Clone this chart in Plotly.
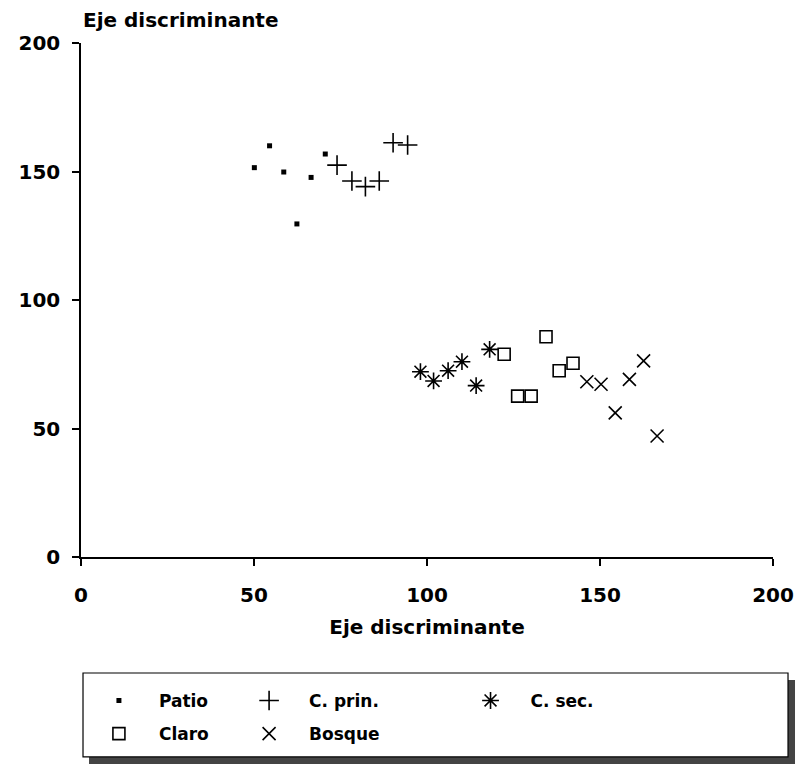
import plotly.graph_objects as go

# ---- data ----
patio_x = [54.5, 50.1, 58.6, 70.6, 66.5, 62.4]
patio_y = [160.0, 151.5, 149.8, 156.8, 147.7, 129.6]

cprin_x = [74.0, 78.3, 82.2, 86.2, 90.2, 94.4]
cprin_y = [152.5, 146.3, 144.1, 146.3, 161.2, 160.3]

csec_x = [98.1, 101.9, 106.1, 110.1, 114.2, 118.1]
csec_y = [72.1, 68.5, 72.5, 76.0, 66.7, 80.8]

claro_x = [122.3, 126.2, 130.1, 134.4, 138.2, 142.2]
claro_y = [78.9, 62.6, 62.6, 85.7, 72.5, 75.4]

bosque_x = [146.2, 150.3, 154.4, 158.5, 162.6, 166.5]
bosque_y = [68.2, 67.2, 56.1, 69.1, 76.3, 47.1]

tick_vals = [0, 50, 100, 150, 200]
tick_text = ["0", "50", "100", "150", "200"]

FONT = "DejaVu Sans"

fig = go.Figure()

fig.add_trace(go.Scatter(x=patio_x, y=patio_y, mode="markers", name="Patio",
                         marker=dict(symbol="square", size=5, color="black"),
                         legend="legend", legendgroup="a"))
fig.add_trace(go.Scatter(x=cprin_x, y=cprin_y, mode="markers", name="C. prin.",
                         marker=dict(symbol="cross-thin", size=14, color="black",
                                     line=dict(width=1.6, color="black")),
                         legend="legend2", legendgroup="b"))
fig.add_trace(go.Scatter(x=csec_x, y=csec_y, mode="markers", name="C. sec.",
                         marker=dict(symbol="asterisk", size=14, color="black",
                                     line=dict(width=1.6, color="black")),
                         legend="legend3", legendgroup="c"))
fig.add_trace(go.Scatter(x=claro_x, y=claro_y, mode="markers", name="Claro",
                         marker=dict(symbol="square-open", size=12, color="black",
                                     line=dict(width=1.6, color="black")),
                         legend="legend", legendgroup="d"))
fig.add_trace(go.Scatter(x=bosque_x, y=bosque_y, mode="markers", name="Bosque",
                         marker=dict(symbol="x-thin", size=13, color="black",
                                     line=dict(width=1.6, color="black")),
                         legend="legend2", legendgroup="e"))

axis_common = dict(range=[0, 200], tickvals=tick_vals, ticktext=tick_text,
                   showline=True, linecolor="black", linewidth=1.5,
                   ticks="outside", ticklen=7, tickwidth=1.5, tickcolor="black",
                   showgrid=False, zeroline=False, automargin=False,
                   tickfont=dict(family=FONT, size=20, color="black", weight="bold"))

fig.update_xaxes(**axis_common, ticklabelstandoff=12,
                 title=dict(text="Eje discriminante", standoff=14,
                            font=dict(family=FONT, size=20, color="black", weight="bold")))
fig.update_yaxes(**axis_common, ticklabelstandoff=8)

legend_common = dict(bgcolor="rgba(0,0,0,0)", borderwidth=0, orientation="v",
                     xanchor="left", yanchor="top", tracegroupgap=8, itemwidth=70,
                     font=dict(family=FONT, size=17, color="black", weight="bold"),
                     itemclick=False)

fig.update_layout(
    width=801, height=765,
    margin=dict(l=81, r=28, t=43, b=208, autoexpand=False),
    plot_bgcolor="white", paper_bgcolor="white",
    showlegend=True,
    legend=dict(**legend_common, x=-0.003, y=-0.245),
    legend2=dict(**legend_common, x=0.214, y=-0.245),
    legend3=dict(**legend_common, x=0.534, y=-0.245),
    annotations=[dict(text="Eje discriminante", xref="paper", yref="paper",
                      x=0.0, y=1.045, xanchor="left", yanchor="middle",
                      showarrow=False,
                      font=dict(family=FONT, size=20, color="black", weight="bold"))],
    shapes=[
        dict(type="rect", xref="paper", yref="paper",
             x0=0.0116, x1=1.0318, y0=-0.4027, y1=-0.2393,
             fillcolor="#444444", line=dict(width=0)),
        dict(type="rect", xref="paper", yref="paper",
             x0=0.0029, x1=1.0217, y0=-0.389, y1=-0.2257,
             fillcolor="white", line=dict(width=1.2, color="black")),
    ],
)

fig.write_html("out.html", config={"displayModeBar": False},
               post_script="document.body.style.margin='0';document.body.style.overflow='hidden';")
